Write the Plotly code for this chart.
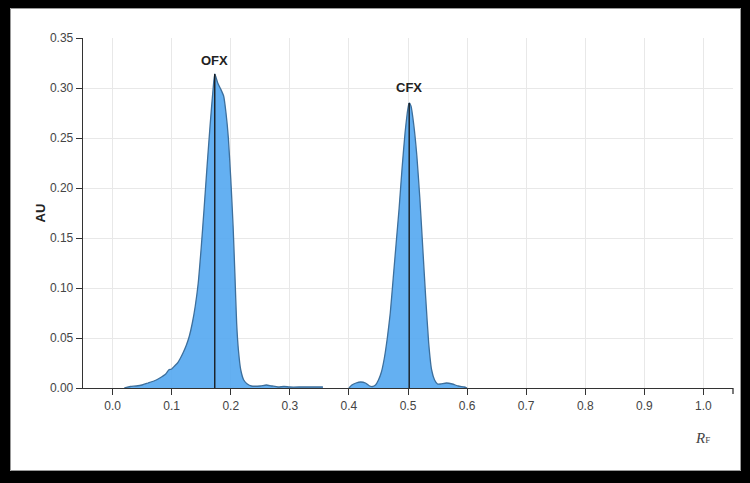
import plotly.graph_objects as go

# ---------------- data ----------------
ofx_rf = [0.020, 0.030, 0.040, 0.050, 0.060, 0.070, 0.080, 0.090, 0.095, 0.100,
          0.105, 0.110, 0.115, 0.120, 0.125, 0.130, 0.135, 0.140, 0.145, 0.150,
          0.155, 0.160, 0.165, 0.170, 0.173, 0.178, 0.183, 0.188, 0.192, 0.196,
          0.200, 0.204, 0.207, 0.210, 0.213, 0.217, 0.222, 0.228, 0.235, 0.250,
          0.260, 0.270, 0.280, 0.290, 0.300, 0.320, 0.340, 0.356]
ofx_au = [0.000, 0.0015, 0.002, 0.003, 0.005, 0.007, 0.010, 0.014, 0.018, 0.019,
          0.022, 0.025, 0.030, 0.036, 0.043, 0.052, 0.065, 0.082, 0.105, 0.140,
          0.180, 0.222, 0.262, 0.298, 0.314, 0.305, 0.299, 0.292, 0.275, 0.250,
          0.210, 0.162, 0.115, 0.065, 0.038, 0.018, 0.008, 0.004, 0.002, 0.002,
          0.003, 0.002, 0.001, 0.0015, 0.001, 0.001, 0.001, 0.001]

cfx_rf = [0.400, 0.405, 0.412, 0.420, 0.428, 0.435, 0.440, 0.445, 0.450, 0.455,
          0.460, 0.465, 0.470, 0.475, 0.480, 0.485, 0.490, 0.495, 0.500, 0.502,
          0.505, 0.510, 0.515, 0.520, 0.525, 0.530, 0.535, 0.540, 0.545, 0.550,
          0.555, 0.565, 0.575, 0.585, 0.595, 0.600]
cfx_au = [0.000, 0.003, 0.005, 0.006, 0.005, 0.002, 0.0015, 0.003, 0.008, 0.016,
          0.030, 0.050, 0.075, 0.110, 0.145, 0.180, 0.220, 0.255, 0.280, 0.285,
          0.282, 0.262, 0.232, 0.190, 0.140, 0.090, 0.045, 0.018, 0.008, 0.004,
          0.004, 0.005, 0.004, 0.002, 0.001, 0.000]

peak_names = ["OFX", "CFX"]
peak_rf = [0.173, 0.502]
peak_au = [0.314, 0.285]
label_au = [0.328, 0.301]

x_ticks = [0.0, 0.1, 0.2, 0.3, 0.4, 0.5, 0.6, 0.7, 0.8, 0.9, 1.0]
y_ticks = [0.00, 0.05, 0.10, 0.15, 0.20, 0.25, 0.30, 0.35]

# ---------------- layout helpers ----------------
W, H = 750, 483
L, R, T, B = 83, 17, 38, 95
PW, PH = W - L - R, H - T - B


def px(x):
    return (x - L) / PW


def py(y):
    return (H - B - y) / PH


FILL = "rgba(78,165,240,0.88)"
LINE = "#3d6f9c"
TICKFONT = dict(family="Liberation Sans Narrow, Arial Narrow, Liberation Sans, Arial", size=12, color="#444")

fig = go.Figure()
for xs, ys in [(ofx_rf, ofx_au), (cfx_rf, cfx_au)]:
    fig.add_trace(go.Scatter(x=xs, y=ys, mode="lines", fill="tozeroy",
                             fillcolor=FILL, line=dict(color=LINE, width=1.3, shape="spline", smoothing=0.5),
                             showlegend=False, hoverinfo="skip"))

for name, xr, yp, yl in zip(peak_names, peak_rf, peak_au, label_au):
    fig.add_trace(go.Scatter(x=[xr, xr], y=[0, yp], mode="lines",
                             line=dict(color="#111", width=1.3), showlegend=False, hoverinfo="skip"))
    fig.add_annotation(x=xr, y=yl, text="<b>%s</b>" % name, showarrow=False,
                       font=dict(family="Liberation Sans, Arial", size=13, color="#222"))

fig.update_xaxes(range=[-0.05, 1.05], tickvals=x_ticks, tickformat=".1f",
                 showgrid=True, gridcolor="#e8e8e8", gridwidth=1, zeroline=False,
                 showline=True, linecolor="#333", linewidth=1.3,
                 ticks="outside", ticklen=6, tickcolor="#333", tickfont=TICKFONT)
fig.update_yaxes(range=[0, 0.35], tickvals=y_ticks, tickformat=".2f",
                 showgrid=True, gridcolor="#e8e8e8", gridwidth=1, zeroline=False,
                 showline=True, linecolor="#333", linewidth=1.3,
                 ticks="outside", ticklen=6, tickcolor="#333", tickfont=TICKFONT)

# right-end outer tick of x axis
fig.add_shape(type="line", xref="paper", yref="paper", x0=1, x1=1, y0=0, y1=-6 / PH,
              line=dict(color="#333", width=1.3))

# axis titles
fig.add_annotation(xref="paper", yref="paper", x=px(30), y=py(213), text="<b>AU</b>",
                   textangle=-90, showarrow=False,
                   font=dict(family="Liberation Sans, Arial", size=13, color="#222"))
fig.add_annotation(xref="paper", yref="paper", x=px(712), y=py(448),
                   text="<i>R</i><span style='font-size:9px'>F</span>", showarrow=False,
                   font=dict(family="Liberation Serif, Times New Roman, serif", size=15, color="#444"))

# black outer frame
frame = [(0, 0, 10, H), (0, 0, W, 8), (W - 9, 0, W, H), (0, H - 12, W, H)]
for x0, y0, x1, y1 in frame:
    fig.add_shape(type="rect", xref="paper", yref="paper", x0=px(x0), x1=px(x1),
                  y0=py(y1), y1=py(y0), fillcolor="#000", line=dict(width=0), layer="above")
fig.add_shape(type="rect", xref="paper", yref="paper", x0=px(10.5), x1=px(W - 9.5),
              y0=py(H - 12.5), y1=py(8.5), line=dict(color="#999", width=1), layer="above")

fig.update_layout(width=W, height=H, margin=dict(l=L, r=R, t=T, b=B),
                  paper_bgcolor="white", plot_bgcolor="white", showlegend=False)

fig.write_html("out.html", config={"displayModeBar": False, "staticPlot": True},
               post_script="document.body.style.margin='0';document.body.style.overflow='hidden';")
